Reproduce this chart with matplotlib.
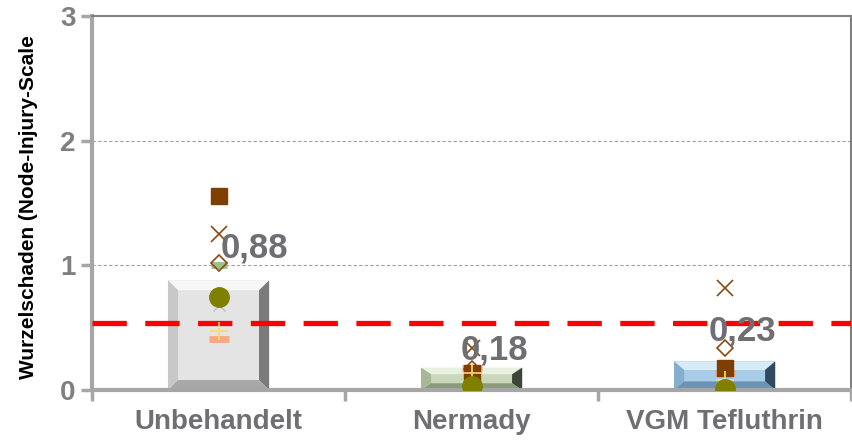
import matplotlib
matplotlib.use("Agg")
import matplotlib.pyplot as plt
from matplotlib.patches import Polygon

plt.rcParams['font.family'] = ['Liberation Sans', 'DejaVu Sans']

# data
categories = ['Unbehandelt', 'Nermady', 'VGM Tefluthrin']
means = [0.88, 0.18, 0.23]
mean_labels = ['0,88', '0,18', '0,23']
threshold = 0.54

# individual trial values per treatment
sq_brown = [1.56, 0.14, 0.18]
x_brown = [1.25, 0.34, 0.82]
diamond = [1.02, 0.17, 0.34]
dash_green = [1.00, 0.03, 0.02]
circle_olive = [0.75, 0.03, 0.01]
x_gray = [0.68, 0.12, 0.10]
plus_yellow = [0.47, 0.14, 0.08]
dash_salmon = [0.41, 0.18, 0.14]

# bevel colours: face, top, left, right, bottom
bevels = [
    ['#e4e4e4', '#f7f7f7', '#c8c8c8', '#7a7a7a', '#a8a8a8'],
    ['#c9d8bb', '#e8f1df', '#a7b899', '#3c4636', '#8a9a7c'],
    ['#a9cde8', '#d8ecf8', '#86aed0', '#2f4a60', '#6d93b2'],
]

fig = plt.figure(figsize=(8.52, 4.42), dpi=100)
ax = fig.add_axes([0.108, 0.1176, 0.891, 0.8462])

xs = list(range(len(categories)))
bw = 0.4
bars = ax.bar(xs, means, width=bw, color=[c[0] for c in bevels], edgecolor='none',
              zorder=2)
# bevel edges
for b, cols in zip(bars, bevels):
    x0, y0 = b.get_x(), b.get_y()
    w, h = b.get_width(), b.get_height()
    x1, y1 = x0 + w, y0 + h
    bx = 0.04
    by = min(0.08, h * 0.3)
    ix0, ix1, iy0, iy1 = x0 + bx, x1 - bx, y0 + by, y1 - by
    for pts, c in [([(x0, y1), (x1, y1), (ix1, iy1), (ix0, iy1)], cols[1]),
                   ([(x0, y0), (x0, y1), (ix0, iy1), (ix0, iy0)], cols[2]),
                   ([(x1, y0), (x1, y1), (ix1, iy1), (ix1, iy0)], cols[3]),
                   ([(x0, y0), (x1, y0), (ix1, iy0), (ix0, iy0)], cols[4])]:
        ax.add_patch(Polygon(pts, closed=True, facecolor=c, edgecolor='none', zorder=2.1))

ax.axhline(threshold, color='#ff0000', lw=3.8, dashes=(6.5, 3.5), zorder=3)

ax.plot(xs, x_gray, ls='none', marker='x', ms=8, mew=1, color='#bfbfbf', zorder=4)
ax.plot(xs, dash_salmon, ls='none', marker='_', ms=15, mew=5, color='#f8a982', zorder=4)
ax.plot(xs, plus_yellow, ls='none', marker='+', ms=13, mew=1.2, color='#f5dc6e', zorder=5)
ax.plot(xs, circle_olive, ls='none', marker='o', ms=14, color='#808000', zorder=5)
ax.plot(xs, dash_green, ls='none', marker='_', ms=11, mew=5, color='#9bc48a', zorder=4)
ax.plot(xs, diamond, ls='none', marker='D', ms=8, mew=1.2, mfc='none',
        color='#8b4a10', zorder=4)
ax.plot(xs, x_brown, ls='none', marker='x', ms=11, mew=1.2, color='#8b4a10', zorder=4)
ax.plot(xs, sq_brown, ls='none', marker='s', ms=11, color='#7f3f00', zorder=4)

label_dx = [0.14, 0.09, 0.07]
label_dy = [0.26, 0.14, 0.24]
for x, m, t, dx, dy in zip(xs, means, mean_labels, label_dx, label_dy):
    ax.text(x + dx, m + dy, t, ha='center', va='center', fontsize=25,
            fontweight='bold', color='#6e6e73', zorder=6)

ax.set_xlim(-0.5, 2.5)
ax.set_ylim(0, 3)
ax.set_yticks([0, 1, 2, 3])
ax.set_xticks(xs)
ax.set_xticklabels(categories, fontsize=20, fontweight='bold', color='#6e6e73')
ax.set_xticks([-0.5, 0.5, 1.5, 2.5], minor=True)
ax.tick_params(axis='x', which='major', length=0, pad=14)
ax.tick_params(axis='x', which='minor', length=8, width=2.5, color='#a6a6a6', direction='out')
ax.tick_params(axis='y', length=8, width=2.5, color='#a6a6a6', direction='out', pad=4,
               labelsize=20, labelcolor='#808080')
for lbl in ax.get_yticklabels():
    lbl.set_fontweight('bold')

for y in [1, 2]:
    ax.axhline(y, color='#a0a0a0', lw=0.8, ls=(0, (3, 2)), zorder=1)
for s in ['left', 'bottom']:
    ax.spines[s].set_color('#a6a6a6')
    ax.spines[s].set_linewidth(3)
for s in ['top', 'right']:
    ax.spines[s].set_color('#7f7f7f')
    ax.spines[s].set_linewidth(1.5)

ax.set_ylabel('Wurzelschaden (Node-Injury-Scale', fontsize=15, fontweight='bold',
              color='black')
ax.yaxis.set_label_coords(-0.071, 0.49)

fig.savefig('out.png', dpi=100)
